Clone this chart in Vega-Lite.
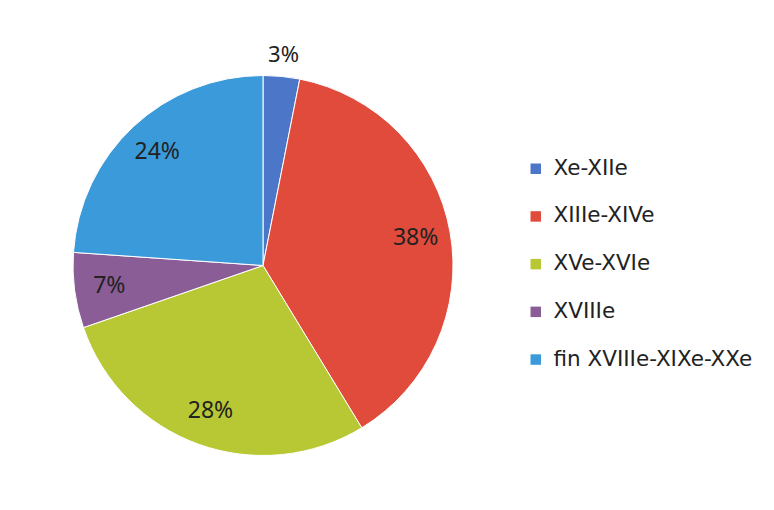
{
  "$schema": "https://vega.github.io/schema/vega-lite/v6.json",
  "autosize": {"type": "none"},
  "width": 512,
  "height": 489,
  "padding": {"left": 7, "top": 21, "right": 255, "bottom": 0},
  "background": "white",
  "config": {"view": {"stroke": null}},
  "data": {
    "values": [
      {"ordre": 1, "periode": "Xe-XIIe", "valeur": 3.1, "label": "3%"},
      {"ordre": 2, "periode": "XIIIe-XIVe", "valeur": 38.2, "label": "38%"},
      {"ordre": 3, "periode": "XVe-XVIe", "valeur": 28.4, "label": "28%"},
      {"ordre": 4, "periode": "XVIIIe", "valeur": 6.4, "label": "7%"},
      {"ordre": 5, "periode": "fin XVIIIe-XIXe-XXe", "valeur": 23.9, "label": "24%"}
    ]
  },
  "encoding": {
    "theta": {"field": "valeur", "type": "quantitative", "stack": true},
    "order": {"field": "ordre", "type": "quantitative"},
    "color": {
      "field": "periode",
      "type": "nominal",
      "scale": {
        "domain": ["Xe-XIIe", "XIIIe-XIVe", "XVe-XVIe", "XVIIIe", "fin XVIIIe-XIXe-XXe"],
        "range": ["#4C77C9", "#E04B3C", "#B8C834", "#8B5D96", "#3B9BDA"]
      },
      "legend": {
        "title": null,
        "orient": "none",
        "legendX": 518,
        "legendY": 137,
        "padding": 0,
        "symbolType": "square",
        "symbolSize": 110,
        "symbolStrokeWidth": 0,
        "labelFont": "DejaVu Sans",
        "labelFontSize": 21.5,
        "labelColor": "#222222",
        "labelOffset": 7,
        "rowPadding": 24.7,
        "labelLimit": 300
      }
    }
  },
  "layer": [
    {
      "mark": {"type": "arc", "outerRadius": 190, "stroke": "white", "strokeWidth": 1}
    },
    {
      "mark": {"type": "text", "font": "Noto Sans", "fontSize": 23, "radius": 155},
      "encoding": {
        "text": {"condition": {"test": "datum.valeur < 5", "value": ""}, "field": "label", "type": "nominal"},
        "color": {"value": "#222222"}
      }
    },
    {
      "mark": {"type": "text", "font": "Noto Sans", "fontSize": 22, "radius": 211},
      "encoding": {
        "text": {"condition": {"test": "datum.valeur >= 5", "value": ""}, "field": "label", "type": "nominal"},
        "color": {"value": "#222222"}
      }
    }
  ]
}
